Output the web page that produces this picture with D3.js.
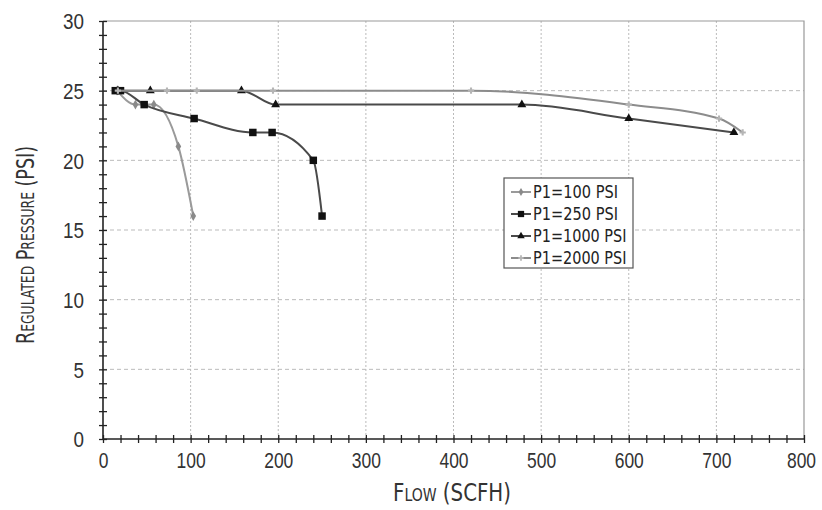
<!DOCTYPE html>
<html>
<head>
<meta charset="utf-8">
<script src="https://cdn.jsdelivr.net/npm/d3@7"></script>
<style>
  body { margin: 0; background: #fff; }
  svg { display: block; font-family: "Liberation Sans Narrow", "DejaVu Sans Condensed", "Arial Narrow", sans-serif; }
</style>
</head>
<body>
<div id="chart"></div>
<script>
const FRAME_WIDTH = 822;
const FRAME_HEIGHT = 510;
const MARGINS = {left: 103, right: 18, top: 21, bottom: 71};
const VIS_WIDTH = FRAME_WIDTH - MARGINS.left - MARGINS.right;
const VIS_HEIGHT = FRAME_HEIGHT - MARGINS.top - MARGINS.bottom;

// data
const SERIES_NAMES = ["P1=100 PSI", "P1=250 PSI", "P1=1000 PSI", "P1=2000 PSI"];
const FLOW_100 = [16, 37, 58, 86, 103];
const PRESS_100 = [25, 24, 24, 21, 16];
const FLOW_250 = [14, 20, 47, 104, 171, 193, 240, 250];
const PRESS_250 = [25, 25, 24, 23, 22, 22, 20, 16];
const FLOW_1000 = [17, 54, 158, 197, 478, 600, 720];
const PRESS_1000 = [25, 25, 25, 24, 24, 23, 22];
const FLOW_2000 = [17, 73, 107, 194, 420, 600, 703, 730];
const PRESS_2000 = [25, 25, 25, 25, 25, 24, 23, 22];

const X_TICKS = [0, 100, 200, 300, 400, 500, 600, 700, 800];
const Y_TICKS = [0, 5, 10, 15, 20, 25, 30];

const SERIES = [
  {name: SERIES_NAMES[0], flow: FLOW_100, press: PRESS_100, line: "#9a9a9a", fill: "#8a8a8a", symbol: d3.symbolDiamond, size: 28},
  {name: SERIES_NAMES[1], flow: FLOW_250, press: PRESS_250, line: "#4a4a4a", fill: "#111", symbol: d3.symbolSquare, size: 56},
  {name: SERIES_NAMES[2], flow: FLOW_1000, press: PRESS_1000, line: "#4a4a4a", fill: "#111", symbol: d3.symbolTriangle, size: 34},
  {name: SERIES_NAMES[3], flow: FLOW_2000, press: PRESS_2000, line: "#8c8c8c", fill: "#b5b5b5", symbol: d3.symbolCross, size: 22}
];

// squeeze text to look like the condensed face of the original
const narrow = (sel, perChar) => sel.each(function () {
  const t = d3.select(this).text();
  if (t.length) d3.select(this).attr("textLength", t.length * perChar).attr("lengthAdjust", "spacingAndGlyphs");
});

const FRAME = d3.select("#chart")
  .append("svg")
    .attr("width", FRAME_WIDTH)
    .attr("height", FRAME_HEIGHT);

const X_SCALE = d3.scaleLinear().domain([0, 800]).range([0, VIS_WIDTH]);
const Y_SCALE = d3.scaleLinear().domain([0, 30]).range([VIS_HEIGHT, 0]);

const plot = FRAME.append("g")
  .attr("transform", "translate(" + MARGINS.left + "," + MARGINS.top + ")");

// grid
plot.selectAll(".vgrid")
  .data(X_TICKS.filter(d => d > 0 && d < 800))
  .enter().append("line")
    .attr("x1", d => X_SCALE(d)).attr("x2", d => X_SCALE(d))
    .attr("y1", 0).attr("y2", VIS_HEIGHT)
    .attr("stroke", "#bbb").attr("stroke-dasharray", "2,2");

plot.selectAll(".hgrid")
  .data(Y_TICKS.filter(d => d > 0 && d < 30))
  .enter().append("line")
    .attr("x1", 0).attr("x2", VIS_WIDTH)
    .attr("y1", d => Y_SCALE(d)).attr("y2", d => Y_SCALE(d))
    .attr("stroke", "#bbb").attr("stroke-dasharray", "4,3");

// top and right border
plot.append("path")
  .attr("d", "M0," + Y_SCALE(30) + "H" + X_SCALE(800) + "V" + Y_SCALE(0))
  .attr("fill", "none").attr("stroke", "#999").attr("stroke-width", 1.2);

// axes
const xAxis = plot.append("g")
  .attr("transform", "translate(0," + VIS_HEIGHT + ")")
  .call(d3.axisBottom(X_SCALE)
    .tickValues(d3.range(0, 801, 20))
    .tickFormat(d => X_TICKS.includes(d) ? d : "")
    .tickSizeOuter(0));
xAxis.selectAll(".tick line").attr("y1", -4).attr("y2", 4).attr("stroke", "#222").attr("stroke-width", 1.3);
xAxis.selectAll(".tick text").attr("y", 29).attr("dy", 0).attr("font-size", "22px").attr("fill", "#333")
  .attr("x", d => d === 800 ? -3 : 0)
  .call(narrow, 9.7);

const yAxis = plot.append("g")
  .call(d3.axisLeft(Y_SCALE)
    .tickValues(d3.range(0, 31, 1))
    .tickFormat(d => Y_TICKS.includes(d) ? d : "")
    .tickSizeOuter(0));
yAxis.selectAll(".tick line").attr("x1", -4).attr("x2", 4).attr("stroke", "#222").attr("stroke-width", 1.3);
yAxis.selectAll(".tick text").attr("x", -19).attr("dy", "0.36em").attr("font-size", "22px").attr("fill", "#333")
  .call(narrow, 10.5);
plot.selectAll(".domain").remove();
xAxis.append("line").attr("x1", 0).attr("x2", VIS_WIDTH).attr("stroke", "#222").attr("stroke-width", 1.6);
yAxis.append("line").attr("y1", 0).attr("y2", VIS_HEIGHT).attr("stroke", "#222").attr("stroke-width", 1.6);

// series
const lineGen = d3.line()
  .x(d => X_SCALE(d[0]))
  .y(d => Y_SCALE(d[1]))
  .curve(d3.curveMonotoneX);

SERIES.forEach(s => {
  const pts = s.flow.map((f, i) => [f, s.press[i]]);
  plot.append("path")
    .datum(pts)
    .attr("d", lineGen)
    .attr("fill", "none")
    .attr("stroke", s.line)
    .attr("stroke-width", 2);
  plot.selectAll(null)
    .data(pts)
    .enter().append("path")
      .attr("transform", d => "translate(" + X_SCALE(d[0]) + "," + Y_SCALE(d[1]) + ")")
      .attr("d", d3.symbol().type(s.symbol).size(s.size))
      .attr("fill", s.fill);
});

// legend
const legend = FRAME.append("g").attr("transform", "translate(504,178)");
legend.append("rect")
  .attr("width", 129).attr("height", 90)
  .attr("fill", "#fff").attr("stroke", "#555").attr("stroke-width", 1.2);
SERIES.forEach((s, i) => {
  const y = 14 + i * 22;
  legend.append("line")
    .attr("x1", 7).attr("x2", 27).attr("y1", y).attr("y2", y)
    .attr("stroke", s.line).attr("stroke-width", 2);
  legend.append("path")
    .attr("transform", "translate(17," + y + ")")
    .attr("d", d3.symbol().type(s.symbol).size(s.size * 0.7))
    .attr("fill", s.fill);
  legend.append("text")
    .attr("x", 29).attr("y", y).attr("dy", "0.36em")
    .attr("font-size", "18px").attr("fill", "#222")
    .text(s.name)
    .call(narrow, 8.5);
});

// axis titles
FRAME.append("text")
  .attr("x", 452).attr("y", 501)
  .attr("text-anchor", "middle")
  .attr("font-size", "24px").attr("fill", "#333")
  .style("font-variant", "small-caps")
  .attr("textLength", 118).attr("lengthAdjust", "spacingAndGlyphs")
  .text("Flow (SCFH)");

FRAME.append("text")
  .attr("transform", "translate(34,245) rotate(-90)")
  .attr("text-anchor", "middle")
  .attr("font-size", "24px").attr("fill", "#333")
  .style("font-variant", "small-caps")
  .attr("textLength", 198).attr("lengthAdjust", "spacingAndGlyphs")
  .text("Regulated Pressure (PSI)");
</script>
</body>
</html>
